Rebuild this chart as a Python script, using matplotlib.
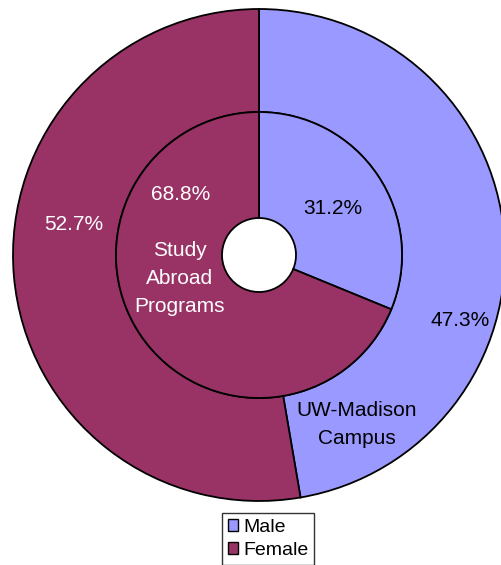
import matplotlib.pyplot as plt
from matplotlib.patches import Patch

plt.rcParams['font.family'] = ['Liberation Sans', 'DejaVu Sans']

# data
groups = ['Male', 'Female']
campus = [47.3, 52.7]      # outer ring: UW-Madison Campus
abroad = [31.2, 68.8]      # inner ring: Study Abroad Programs
colors = ['#9999FF', '#993366']

W, H = 501, 565
fig = plt.figure(figsize=(W / 100, H / 100), dpi=100)
ax = fig.add_axes([0, 0, 1, 1])

cx, cy = 259, H - 255
r_out, r_mid, r_hole = 246, 143, 37

ax.pie(campus, radius=r_out, center=(cx, cy), startangle=90, counterclock=False,
       colors=colors, wedgeprops=dict(width=r_out - r_mid, edgecolor='black', linewidth=1.3),
       frame=True)
ax.pie(abroad, radius=r_mid, center=(cx, cy), startangle=90, counterclock=False,
       colors=colors, wedgeprops=dict(width=r_mid - r_hole, edgecolor='black', linewidth=1.3),
       frame=True)
ax.set_xlim(0, W)
ax.set_ylim(0, H)
ax.set_aspect('auto')
ax.axis('off')

fs = 15
ax.text(333, H - 209, f'{abroad[0]}%', ha='center', va='center', fontsize=fs, color='black')
ax.text(181, H - 194, f'{abroad[1]}%', ha='center', va='center', fontsize=fs, color='white')
ax.text(180, H - 278, 'Study\nAbroad\nPrograms', ha='center', va='center', fontsize=fs,
        color='white', linespacing=1.6)
ax.text(460, H - 321, f'{campus[0]}%', ha='center', va='center', fontsize=fs, color='black')
ax.text(74, H - 225, f'{campus[1]}%', ha='center', va='center', fontsize=fs, color='white')
ax.text(357, H - 424, 'UW-Madison\nCampus', ha='center', va='center', fontsize=fs,
        color='black', linespacing=1.6)

handles = [Patch(facecolor=c, edgecolor='black', linewidth=1) for c in colors]
leg = ax.legend(handles, groups, loc='upper center', bbox_to_anchor=(268 / W, (H - 513) / H),
                fontsize=14, frameon=True, fancybox=False, edgecolor='black',
                handlelength=0.55, handleheight=0.55, handletextpad=0.25,
                labelspacing=0.3, borderpad=0.3, borderaxespad=0)
leg.get_frame().set_linewidth(1)

fig.savefig('out.png', dpi=100)
